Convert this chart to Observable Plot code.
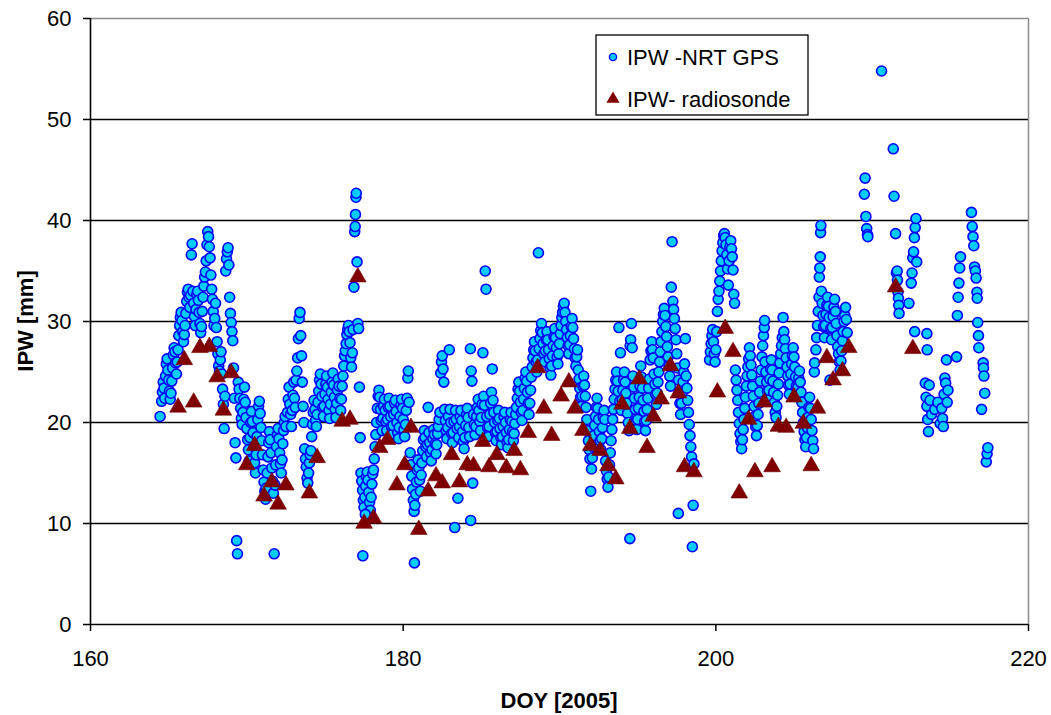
<!DOCTYPE html>
<html><head><meta charset="utf-8">
<script src="https://cdn.jsdelivr.net/npm/d3@7"></script>
<script src="https://cdn.jsdelivr.net/npm/@observablehq/plot@0.6"></script>
<style>html,body{margin:0;padding:0;background:#fff;} #chart{position:relative;width:1051px;height:715px;}</style>
</head><body><div id="chart"></div>
<script>
const xTicks = [160, 180, 200, 220];
const yTicks = [0, 10, 20, 30, 40, 50, 60];
const seriesNames = ["IPW -NRT GPS", "IPW- radiosonde"];
const xTitle = "DOY [2005]";
const yTitle = "IPW [mm]";

// GPS IPW, [DOY, IPW mm]
const gps164_168 = [[164.45,20.6],[164.55,22.1],[164.6,23.0],[164.65,24.0],[164.7,23.4],[164.75,22.4],[164.8,24.6],[164.85,25.8],[164.9,26.3],[164.95,25.2],[165.0,24.2],[165.05,23.1],[165.1,22.3],[165.15,22.9],[165.2,24.1],[165.25,25.4],[165.3,26.7],[165.35,27.4],[165.4,27.0],[165.45,25.9],[165.5,24.8],[165.55,26.0],[165.6,27.2],[165.65,28.6],[165.7,29.6],[165.75,30.4],[165.8,30.9],[165.85,30.1],[165.9,29.0],[165.95,28.0],[166.0,28.7],
[166.05,29.6],[166.1,30.8],[166.15,32.0],[166.2,32.9],[166.25,33.2],[166.3,32.4],[166.35,31.4],[166.4,32.6],[166.45,36.6],[166.5,37.7],[166.55,33.0],[166.6,31.8],[166.65,30.5],[166.7,29.6],[166.75,31.2],[166.8,32.7],[166.85,33.0],[166.9,32.1],[166.95,30.9],[167.0,29.8],[167.05,28.9],[167.1,29.5],[167.15,31.0],[167.2,32.4],[167.25,33.5],[167.3,34.4],[167.35,34.9],[167.4,36.0],[167.45,37.6],[167.5,38.9],[167.55,38.4],[167.6,37.4],[167.65,36.3],[167.7,34.6],[167.75,33.2],[167.8,32.2],[167.85,31.0],[167.9,29.6],[167.95,30.3],[168.0,31.8]];
const gps168_172 = [[168.05,29.4],[168.1,28.0],[168.15,26.8],[168.2,25.6],[168.25,25.1],[168.3,26.2],[168.35,27.0],[168.4,24.8],[168.45,23.3],[168.5,21.8],[168.55,19.4],[168.6,22.6],[168.65,35.0],[168.7,36.2],[168.75,36.9],[168.8,37.3],[168.85,35.6],[168.9,32.4],[168.95,30.8],[169.0,29.9],[169.05,29.0],[169.1,28.1],[169.15,25.4],[169.2,22.4],[169.25,18.0],[169.3,16.5],[169.35,8.3],[169.4,7.0],
[169.45,24.0],[169.5,23.3],[169.55,22.4],[169.6,21.4],[169.65,20.4],[169.7,19.8],[169.75,21.0],[169.8,22.3],[169.85,23.5],[169.9,22.0],[169.95,20.5],[170.0,19.4],[170.05,18.3],[170.1,17.3],[170.15,16.2],[170.2,18.5],[170.25,20.0],[170.3,21.1],[170.35,20.1],[170.4,19.0],[170.45,17.6],[170.5,16.0],[170.55,15.0],[170.6,16.8],[170.65,18.6],[170.7,20.3],[170.75,21.6],[170.8,22.1],[170.85,20.9],[170.9,19.5],[170.95,18.2],
[171.0,16.8],[171.05,15.3],[171.1,14.1],[171.15,13.2],[171.2,12.4],[171.25,13.5],[171.3,15.0],[171.35,16.6],[171.4,18.0],[171.45,19.1],[171.5,18.3],[171.55,17.0],[171.6,15.5],[171.65,14.2],[171.7,13.0],[171.75,7.0],[171.8,13.8],[171.85,15.8],[171.9,17.6],[171.95,18.8],[172.0,19.4],[172.05,18.4],[172.1,17.0],[172.15,15.9],[172.2,15.0],[172.25,16.3],[172.3,17.9],[172.35,19.2],[172.4,20.0],[172.45,20.6],[172.5,19.6]];
const gps172_177 = [[172.6,21.0],[172.65,22.3],[172.7,23.5],[172.75,21.8],[172.8,20.8],[172.85,19.6],[172.9,21.2],[172.95,22.7],[173.0,24.0],[173.05,22.4],[173.1,21.5],[173.15,24.2],[173.2,25.1],[173.25,26.4],[173.3,28.3],[173.35,30.3],[173.4,30.9],[173.45,28.6],[173.5,26.6],[173.55,24.0],[173.6,21.6],[173.65,20.0],[173.7,17.4],[173.75,16.4],[173.8,15.6],[173.85,14.5],[173.9,14.0],[173.95,15.0],[174.0,16.0],[174.05,16.8],[174.1,17.2],
[174.15,18.6],[174.2,19.8],[174.25,21.0],[174.3,22.2],[174.35,21.3],[174.4,20.2],[174.45,19.6],[174.5,20.8],[174.55,22.0],[174.6,23.1],[174.65,24.2],[174.7,24.8],[174.75,23.8],[174.8,22.6],[174.85,21.5],[174.9,20.6],[174.95,21.6],[175.0,22.8],[175.05,23.8],[175.1,24.6],[175.15,23.5],[175.2,22.3],[175.25,21.2],[175.3,20.4],[175.35,21.8],[175.4,23.0],[175.45,24.0],[175.5,24.9],[175.55,23.7],[175.6,22.5],[175.65,21.3],[175.7,20.5],[175.75,21.9],[175.8,23.2],[175.85,24.3],[175.9,23.6],[175.95,22.4],[176.0,21.2],[176.05,22.3],[176.1,23.6],[176.15,24.6],[176.2,25.6],[176.25,26.6],[176.3,27.1],
[176.35,27.8],[176.4,28.7],[176.45,29.2],[176.5,29.6],[176.55,29.0],[176.6,27.9],[176.65,26.4],[176.7,25.5],[176.75,26.9],[176.8,29.2],[176.85,33.4],[176.9,38.9],[176.93,39.4],[176.95,40.6],[176.98,42.3],[177.0,42.7],[177.05,35.9],[177.1,29.8],[177.15,29.3],[177.2,23.5],[177.25,18.5]];
const gps177_181 = [[177.3,15.0],[177.35,14.2],[177.4,13.3],[177.45,12.3],[177.5,11.6],[177.55,12.6],[177.6,13.7],[177.65,14.6],[177.7,15.1],[177.75,14.3],[177.8,13.1],[177.85,12.1],[177.9,11.3],[177.95,12.6],[178.0,13.9],[178.05,14.9],[178.1,15.3],[177.42,6.8],[177.58,10.9],
[178.15,16.4],[178.2,17.6],[178.25,18.8],[178.3,20.0],[178.35,21.4],[178.4,22.6],[178.45,23.2],[178.5,22.5],[178.55,21.3],[178.6,20.2],[178.65,19.2],[178.7,20.4],[178.75,21.6],[178.8,22.3],[178.85,21.2],[178.9,20.1],[178.95,19.2],
[179.0,20.3],[179.05,21.5],[179.1,22.4],[179.15,21.6],[179.2,20.6],[179.25,19.6],[179.3,18.8],[179.35,19.7],[179.4,20.8],[179.45,21.9],[179.5,22.2],[179.55,21.1],[179.6,20.0],[179.65,19.0],[179.7,18.4],[179.75,19.5],[179.8,20.6],[179.85,21.7],[179.9,22.3],[179.95,21.4],[180.0,20.3],[180.05,19.3],[180.1,18.6],[180.15,19.8],[180.2,21.2],[180.25,22.4],[180.3,24.4],[180.33,25.1],[180.38,22.0],
[180.45,17.0],[180.5,15.8],[180.55,14.7],[180.6,13.4],[180.65,12.3],[180.7,11.2],[180.72,6.1],[180.75,11.8],[180.8,12.9],[180.85,14.1],[180.9,15.3],[180.95,16.3],[181.0,15.5],[181.05,14.3],[181.1,13.2]];
const gps181_185 = [[181.15,14.8],[181.2,16.0],[181.25,17.2],[181.3,18.3],[181.35,19.2],[181.4,18.5],[181.45,17.6],[181.5,16.6],[181.55,17.8],[181.6,21.5],[181.65,19.0],[181.7,18.0],[181.75,17.0],[181.8,16.2],[181.85,17.3],[181.9,18.4],[181.95,19.3],[182.0,18.8],[182.05,17.9],[182.1,16.9],[182.15,17.8],[182.2,18.9],[182.25,19.6],[182.3,20.3],
[182.35,21.0],[182.4,24.9],[182.45,26.0],[182.5,26.6],[182.55,25.3],[182.6,24.0],[182.65,21.3],[182.7,20.2],[182.75,19.2],[182.8,18.4],[182.85,19.5],[182.9,20.6],[182.95,27.2],[183.0,21.3],[183.05,20.0],[183.1,18.9],[183.15,18.0],[183.2,19.0],[183.25,20.1],[183.3,9.6],[183.35,21.2],[183.4,20.3],[183.45,19.4],[183.5,12.5],[183.55,18.5],[183.6,19.6],[183.65,20.6],[183.7,21.2],[183.75,20.2],[183.8,19.1],[183.85,18.1],[183.9,17.4],[183.95,18.5],[184.0,19.7],[184.05,20.8],[184.1,21.4],[184.15,20.5],[184.2,19.5],[184.25,18.6],[184.3,27.3],[184.32,10.3],[184.35,25.1],[184.4,24.1],[184.45,14.0],[184.5,20.8],[184.55,19.8],[184.6,18.8],[184.65,19.6],[184.7,20.6],[184.75,21.5],[184.8,22.3],[184.85,21.2],[184.9,20.1]];
const gps185_188 = [[184.95,19.2],[185.0,20.5],[185.05,21.8],[185.1,26.9],[185.15,22.6],[185.2,21.7],[185.25,35.0],[185.3,33.2],[185.35,20.6],[185.4,19.5],[185.45,18.6],[185.5,19.6],[185.55,20.8],[185.6,21.9],[185.65,23.0],[185.7,25.3],[185.75,22.2],[185.8,21.0],[185.85,20.0],[185.9,19.0],[185.95,18.2],[186.0,19.1],[186.05,20.2],[186.1,21.2],[186.15,20.4],[186.2,19.4],[186.25,18.5],[186.3,17.8],[186.35,18.6],[186.4,19.6],[186.45,20.6],[186.5,21.0],[186.55,20.0],[186.6,19.0],[186.65,18.1],[186.7,17.5],[186.75,18.3],[186.8,19.3],[186.85,20.3],[186.9,21.0],[186.95,20.1],[187.0,19.1],[187.05,18.2],[187.1,18.9],[187.15,19.9],[187.2,20.8],
[187.25,21.5],[187.3,22.4],[187.35,23.3],[187.4,24.0],[187.45,23.1],[187.5,22.0],[187.55,21.0],[187.6,20.2],[187.65,21.2],[187.7,22.3],[187.75,23.4],[187.8,24.4],[187.85,25.0],[187.9,24.1],[187.95,23.0],[188.0,21.9],[188.05,20.8],[188.1,21.9],[188.15,23.2],[188.2,24.5],[188.25,25.5],[188.3,26.4],[188.35,27.2],[188.4,28.0],[188.45,27.1],[188.5,26.0],[188.55,25.0],[188.6,26.2],[188.65,36.8],[188.7,27.3]];
const gps188_193 = [[188.75,28.3],[188.8,29.1],[188.85,29.8],[188.9,28.9],[188.95,27.8],[189.0,26.8],[189.05,26.0],[189.1,27.1],[189.15,28.2],[189.2,29.0],[189.25,28.2],[189.3,27.2],[189.35,26.3],[189.4,25.4],[189.45,24.7],[189.5,25.6],[189.55,26.6],[189.6,27.6],[189.65,28.5],[189.7,29.3],[189.75,28.4],[189.8,27.4],[189.85,26.5],[189.9,25.8],[189.95,26.8],[190.0,27.8],[190.05,28.8],[190.1,29.6],[190.15,30.4],[190.2,30.9],[190.25,31.5],[190.3,31.8],[190.35,30.9],[190.4,30.0],[190.45,29.2],[190.5,28.4],[190.55,27.6],[190.6,26.8],[190.65,27.7],[190.7,28.6],[190.75,29.5],[190.8,30.3],[190.85,29.4],[190.9,28.3],[190.95,27.3],[191.0,26.4],[191.05,25.6],[191.1,26.5],[191.15,27.2],
[191.2,25.2],[191.25,24.3],[191.3,23.4],[191.35,22.5],[191.4,21.6],[191.45,22.6],[191.5,23.6],[191.55,24.6],[191.6,23.7],[191.65,22.6],[191.7,21.5],[191.75,20.3],[191.8,19.2],[191.85,18.2],[191.9,17.3],[191.95,16.4],[192.0,13.2],[192.05,15.4],[192.1,16.5],[192.15,17.6],[192.2,18.7],[192.25,19.7],[192.3,20.6],[192.35,21.5],[192.4,22.4],[192.45,21.4],[192.5,20.3],[192.55,19.1],[192.6,18.2],[192.65,17.3],[192.7,18.4],[192.75,19.5],[192.8,20.5],[192.85,21.2],[192.9,20.3],[192.95,16.2],[193.0,15.2],[193.05,14.4],[193.1,13.6],[193.15,14.6],[193.2,15.8],[193.25,17.0],[193.3,18.2],[193.35,19.3],[193.4,20.3]];
const gps193_199 = [[193.45,21.3],[193.5,22.3],[193.55,23.3],[193.6,24.2],[193.65,25.0],[193.7,24.1],[193.75,23.1],[193.8,29.4],[193.85,22.1],[193.9,26.9],[193.95,21.2],[194.0,22.2],[194.05,23.2],[194.1,24.2],[194.15,25.0],[194.2,24.0],[194.25,22.9],[194.3,21.9],[194.35,20.9],[194.4,20.0],[194.45,19.2],[194.5,8.5],[194.52,27.6],[194.55,28.2],[194.6,29.8],[194.65,27.4],[194.7,24.6],[194.75,23.5],[194.8,22.4],[194.85,21.3],[194.9,20.2],[194.95,19.3],[195.0,20.3],[195.05,21.4],[195.1,22.5],[195.15,23.6],[195.2,25.6],[195.25,24.5],[195.3,23.4],[195.35,22.2],[195.4,21.1],[195.45,20.1],[195.5,19.2],[195.55,20.2],[195.6,21.3],[195.65,22.4],[195.7,23.4],[195.75,24.3],[195.8,26.2],[195.85,27.1],[195.9,28.0],[195.95,27.2],[196.0,26.4],[196.05,24.8],[196.1,23.8],[196.15,22.8],[196.2,21.8],[196.25,22.9],[196.3,24.0],[196.35,25.0],[196.4,26.0],
[196.45,27.0],[196.5,28.0],[196.55,29.0],[196.6,30.0],[196.65,30.7],[196.7,31.3],[196.75,30.6],[196.8,29.5],[196.85,28.5],[196.9,27.5],[196.95,26.5],[197.0,25.6],[197.05,24.6],[197.1,23.6],[197.15,33.4],[197.2,37.9],[197.25,32.0],[197.3,31.2],[197.35,30.3],[197.4,29.3],[197.45,28.2],[197.5,26.8],[197.55,25.4],[197.6,11.0],[197.62,24.2],[197.65,23.0],[197.7,21.9],[197.75,20.8],[197.8,21.9],[197.85,23.0],[197.9,24.0],[197.95,25.0],[198.0,25.8],[198.05,28.3],[198.1,24.6],[198.15,23.4],[198.2,22.2],[198.25,21.0],[198.3,19.8],[198.35,18.7],[198.4,17.6],[198.45,16.6],[198.5,7.7],[198.55,11.8],[198.6,15.9]];
const gps199_203 = [[199.6,26.2],[199.65,27.0],[199.7,27.8],[199.75,28.6],[199.8,29.2],[199.85,28.0],[199.9,26.8],[199.95,26.0],[200.0,27.2],[200.05,29.0],[200.1,31.0],[200.15,32.2],[200.2,33.0],[200.25,34.0],[200.3,35.0],[200.35,36.0],[200.4,37.0],[200.45,37.8],[200.5,38.5],[200.55,38.7],[200.6,38.3],[200.65,37.6],[200.7,36.6],[200.75,35.2],[200.8,33.6],[200.85,36.0],[200.9,37.4],[200.95,38.0],[201.0,37.2],[201.05,36.4],[201.1,35.1],[201.15,32.7],[201.2,31.8],
[201.25,25.2],[201.3,24.2],[201.35,23.2],[201.4,22.2],[201.45,21.0],[201.5,19.9],[201.55,18.9],[201.6,18.1],[201.65,17.4],[201.7,18.3],[201.75,19.3],[201.8,20.3],[201.85,21.4],[201.9,22.5],[201.95,23.6],[202.0,24.6],[202.05,25.5],[202.1,26.3],[202.15,27.4],[202.2,26.6],[202.25,25.7],[202.3,24.7],[202.35,23.6],[202.4,22.6],[202.45,21.6],[202.5,20.6],[202.55,19.6],[202.6,18.7],[202.65,19.7],[202.7,20.8],[202.75,21.9],[202.8,23.0],[202.85,24.1],[202.9,25.2],[202.95,26.5],[203.0,27.6],[203.05,28.6],[203.1,29.4],[203.12,30.1]];
const gps203_209 = [[203.15,26.0],[203.2,25.0],[203.25,24.0],[203.3,23.1],[203.35,22.2],[203.4,23.2],[203.45,24.3],[203.5,25.3],[203.55,26.2],[203.6,25.2],[203.65,24.1],[203.7,23.0],[203.75,22.0],[203.8,21.0],[203.85,20.5],[203.9,21.6],[203.95,22.7],[204.0,23.8],[204.05,24.9],[204.1,25.9],[204.15,26.8],[204.2,27.6],[204.25,28.4],[204.3,30.4],[204.35,29.0],[204.4,28.2],[204.45,27.3],[204.5,26.4],[204.55,25.5],[204.6,24.6],[204.65,23.7],[204.7,22.8],[204.75,23.8],[204.8,24.8],[204.85,25.8],[204.9,26.6],[204.95,27.4],[205.0,26.5],[205.05,25.5],[205.1,24.5],[205.15,23.6],[205.2,22.6],[205.25,23.5],[205.3,24.4],[205.35,25.1],[205.4,24.0],[205.45,23.0],[205.5,22.0],[205.55,21.0],[205.6,20.0],[205.65,19.1],[205.7,18.3],[205.75,17.6],[205.8,18.5],[205.85,19.5],[205.9,20.5],[205.95,21.5],[206.0,22.5],[206.05,21.4],[206.1,20.3],[206.15,19.2],[206.2,18.2],[206.25,17.4],[206.3,25.0],[206.32,25.9],
[206.4,27.2],[206.45,28.4],[206.5,29.6],[206.55,31.0],[206.6,32.4],[206.62,34.4],[206.65,35.3],[206.68,36.4],[206.7,38.8],[206.72,39.5],[206.75,33.0],[206.8,31.8],[206.85,30.6],[206.9,29.5],[206.95,28.4],[207.0,29.6],[207.05,30.7],[207.1,31.6],[207.15,32.4],[207.2,31.5],[207.25,30.4],[207.3,24.2],[207.35,29.3],[207.4,28.2],[207.45,29.4],[207.5,30.5],[207.55,31.4],[207.6,32.2],[207.65,31.0],[207.7,29.8],[207.75,28.6],[207.8,27.5],[207.85,26.8],[207.9,26.0],[207.95,25.2],[208.0,26.1],[208.05,27.1],[208.1,28.1],[208.15,29.0],[208.2,30.0],[208.25,30.6],[208.3,31.4],[208.35,30.2],[208.4,28.9]];
const gps209_218 = [[209.5,42.6],[209.55,44.2],[209.6,40.4],[209.65,39.2],[209.7,38.6],[209.72,38.4],[210.6,54.8],[211.35,47.1],[211.4,42.4],[211.5,38.7],
[211.55,34.8],[211.6,35.0],[211.62,34.1],[211.65,32.9],[211.68,32.3],[211.7,31.6],[211.72,30.8],[212.35,31.8],[212.5,33.8],[212.55,34.8],[212.6,36.3],[212.65,36.9],[212.7,38.3],[212.75,39.3],[212.8,40.2],[212.85,35.9],[212.72,29.0],[213.5,28.8],[213.52,27.2],
[213.4,23.9],[213.45,22.5],[213.5,21.6],[213.55,20.3],[213.6,19.1],[213.65,23.7],[213.7,22.2],[213.8,20.8],[214.0,21.3],[214.2,22.0],[214.35,19.9],[214.45,21.4],[214.5,20.4],[214.55,19.6],[214.6,22.8],[214.65,24.4],[214.7,23.9],[214.75,26.2],[214.8,22.0],[214.85,23.2],
[215.4,26.5],[215.45,30.6],[215.5,32.4],[215.55,33.8],[215.6,35.3],[215.65,36.4],[216.35,40.8],[216.4,39.4],[216.45,38.4],[216.5,37.5],[216.55,35.4],[216.6,35.0],[216.65,34.3],[216.7,32.9],[216.72,32.3],[216.75,29.9],[216.8,28.6],[216.82,27.4],[217.0,21.3],[217.1,25.9],[217.12,25.4],[217.15,24.6],[217.2,22.9],[217.3,16.1],[217.35,16.9],[217.4,17.5]];

// Radiosonde IPW
const sondeDoy = [165.6,166.0,166.6,167.0,167.6,168.1,168.5,169.0,170.0,170.5,171.1,171.6,172.0,172.5,174.0,174.5,176.1,176.6,177.1,177.5,178.1,178.5,179.0,179.6,180.1,180.5,181.0,181.6,182.1,182.5,183.1,183.6,184.1,184.5,185.1,185.5,186.0,186.6,187.1,187.5,188.0,188.6,189.0,189.5,190.1,190.6,191.0,191.5,192.0,192.6,193.1,193.6,194.0,194.5,195.1,195.6,196.0,196.5,197.1,197.6,198.0,198.6,200.1,200.6,201.1,201.5,202.1,202.5,203.1,203.6,204.0,204.5,205.0,205.6,206.1,206.5,207.1,207.5,208.1,208.5,211.5,212.6];
const sondeIpw = [21.5,26.2,22.0,27.4,27.5,24.5,21.2,24.9,15.8,17.7,12.7,14.1,11.9,13.8,13.0,16.5,20.1,20.3,34.4,10.0,10.5,17.5,18.3,13.8,15.8,19.5,9.4,13.2,14.7,14.0,16.8,14.1,15.8,15.7,18.1,15.6,16.8,15.5,17.2,15.3,19.0,25.4,21.4,18.7,22.6,24.0,21.4,19.2,17.7,17.2,15.7,14.4,21.8,19.4,24.3,17.5,20.6,22.3,25.6,22.9,15.6,15.1,23.0,29.3,27.0,13.0,20.3,15.1,22.0,15.6,19.6,19.5,22.5,19.9,15.7,21.4,26.4,24.2,25.1,27.4,33.4,27.3];

const gps = [].concat(gps164_168, gps168_172, gps172_177, gps177_181, gps181_185, gps185_188, gps188_193, gps193_199, gps199_203, gps203_209, gps209_218)
  .map(([doy, ipw]) => ({doy, ipw}));
const sonde = sondeDoy.map((doy, i) => ({doy, ipw: sondeIpw[i]}));

const FONT = "'Liberation Sans', Arial, Helvetica, sans-serif";
const chart = Plot.plot({
  width: 1051, height: 715,
  marginLeft: 90, marginRight: 23, marginTop: 18, marginBottom: 91,
  style: {fontFamily: FONT, fontSize: "22px", background: "#fff", color: "#000", overflow: "visible"},
  x: {domain: [160, 220], label: null},
  y: {domain: [0, 60], label: null},
  marks: [
    Plot.ruleY(yTicks.filter(v => v > 0 && v < 60), {stroke: "#000", strokeWidth: 1.6}),
    Plot.ruleY([60], {stroke: "#8c8c8c", strokeWidth: 1.5}),
    Plot.ruleX([220], {stroke: "#8c8c8c", strokeWidth: 1.5}),
    Plot.axisX({ticks: xTicks, tickSize: 7, tickPadding: 19, tickFormat: d => String(d), label: null, stroke: "#000", strokeWidth: 1.5}),
    Plot.axisY({ticks: yTicks, tickSize: 7, tickPadding: 12, tickFormat: d => String(d), label: null, stroke: "#000", strokeWidth: 1.5}),
    Plot.ruleX([160], {stroke: "#000", strokeWidth: 1.6}),
    Plot.ruleY([0], {stroke: "#000", strokeWidth: 1.6}),
    Plot.dot(gps, {x: "doy", y: "ipw", r: 5, fill: "#00ccff", stroke: "#0000ff", strokeWidth: 1.6}),
    Plot.dot(sonde, {x: "doy", y: "ipw", symbol: "triangle", r: 6.2, fill: "#800000", stroke: "#6e0000", strokeWidth: 0.6})
  ]
});
document.getElementById("chart").appendChild(chart);

const svg = d3.select(chart);
svg.append("text").attr("x", 559).attr("y", 708).attr("text-anchor", "middle")
  .attr("font-family", FONT).attr("font-size", 22).attr("font-weight", "bold").attr("fill", "#000").text(xTitle);
svg.append("text").attr("transform", "translate(33,321) rotate(-90)").attr("text-anchor", "middle")
  .attr("font-family", FONT).attr("font-size", 22).attr("font-weight", "bold").attr("fill", "#000").text(yTitle);

// Legend
const lg = svg.append("g").attr("text-anchor", "start");
lg.append("rect").attr("x", 596).attr("y", 35).attr("width", 212).attr("height", 80)
  .attr("fill", "#fff").attr("stroke", "#000").attr("stroke-width", 1.3);
lg.append("circle").attr("cx", 613).attr("cy", 57).attr("r", 3.6)
  .attr("fill", "#00ccff").attr("stroke", "#0000ff").attr("stroke-width", 1.4);
lg.append("path").attr("transform", "translate(613,99)")
  .attr("d", d3.symbol(d3.symbolTriangle, 75)()).attr("fill", "#800000");
lg.append("text").attr("x", 627).attr("y", 65).attr("text-anchor", "start").attr("font-family", FONT).attr("font-size", 22).attr("fill", "#000").text(seriesNames[0]);
lg.append("text").attr("x", 627).attr("y", 107).attr("text-anchor", "start").attr("font-family", FONT).attr("font-size", 22).attr("fill", "#000").text(seriesNames[1]);
</script>
</body></html>
